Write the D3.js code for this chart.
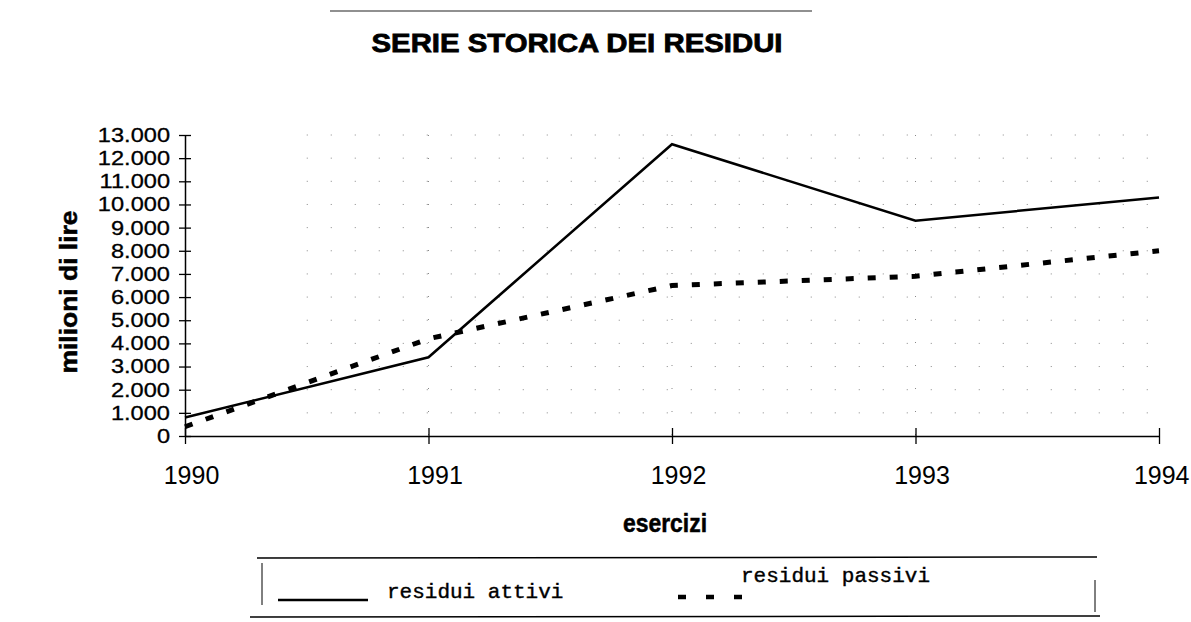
<!DOCTYPE html>
<html>
<head>
<meta charset="utf-8">
<script src="https://cdn.jsdelivr.net/npm/d3@7"></script>
<style>
  body { margin: 0; background: #fff; }
  svg { display: block; }
</style>
</head>
<body>
<div id="chart"></div>
<script>
// dati (milioni di lire)
const years = [1990, 1991, 1992, 1993, 1994];
const residuiAttivi = [800, 3400, 12600, 9300, 10300];
const residuiPassivi = [400, 4200, 6500, 6900, 8000];
const yTicks = d3.range(0, 13001, 1000);

const width = 1191, height = 622;
const margin = {top: 135, right: 32, bottom: 186, left: 185};

const sans = 'Liberation Sans, Arial, sans-serif';
const mono = 'Liberation Mono, Courier New, monospace';

const svg = d3.select('#chart').append('svg')
  .attr('width', width)
  .attr('height', height);

const x = d3.scaleLinear()
  .domain([1990, 1994])
  .range([margin.left, width - margin.right]);

const y = d3.scaleLinear()
  .domain([0, 13000])
  .range([height - margin.bottom, margin.top]);

const fmt = d => d === 0 ? '0' : d3.format(',')(d).replace(/,/g, '.');

// allarga il testo in orizzontale senza cambiarne l'altezza
function stretch(sel, k) {
  sel.each(function() {
    const len = this.getComputedTextLength();
    d3.select(this).attr('textLength', len * k).attr('lengthAdjust', 'spacingAndGlyphs');
  });
}

// riga in alto (bordo della pagina scansionata)
svg.append('line')
  .attr('x1', 330).attr('x2', 812).attr('y1', 11).attr('y2', 11)
  .attr('stroke', '#222').attr('stroke-width', 1.2);

// griglia puntinata molto leggera
const grid = svg.append('g').attr('class', 'grid');
grid.selectAll('line.h')
  .data(yTicks.slice(1))
  .join('line')
  .attr('x1', x(1990.5)).attr('x2', x(1994))
  .attr('y1', d => y(d)).attr('y2', d => y(d))
  .attr('stroke', '#888').attr('stroke-width', 1)
  .attr('stroke-dasharray', '1 23');
grid.selectAll('line.v')
  .data(years.slice(1, 4))
  .join('line')
  .attr('x1', d => x(d)).attr('x2', d => x(d))
  .attr('y1', y(13000)).attr('y2', y(0))
  .attr('stroke', '#888').attr('stroke-width', 1)
  .attr('stroke-dasharray', '1 22');

// titolo
svg.append('text')
  .attr('x', 577).attr('y', 52)
  .attr('text-anchor', 'middle')
  .attr('textLength', 411).attr('lengthAdjust', 'spacingAndGlyphs')
  .style('font-family', sans)
  .style('font-weight', 'bold')
  .style('font-size', '26px')
  .style('stroke', '#000').style('stroke-width', 0.8)
  .text('SERIE STORICA DEI RESIDUI');

// asse y
const yAxis = svg.append('g')
  .attr('transform', `translate(${margin.left},0)`)
  .call(d3.axisLeft(y).tickValues(yTicks).tickFormat(fmt).tickSizeInner(6).tickSizeOuter(0).tickPadding(6));
yAxis.select('.domain').attr('stroke', '#000').attr('stroke-width', 1.5);
yAxis.selectAll('.tick line').attr('x2', 6).attr('x1', -6).attr('stroke-width', 1.3);
yAxis.selectAll('.tick text')
  .attr('x', -15)
  .style('font-family', sans)
  .style('font-size', '20px')
  .style('stroke', '#000').style('stroke-width', 0.3)
  .attr('fill', '#000')
  .call(stretch, 1.18);

// asse x
const xAxis = svg.append('g')
  .attr('transform', `translate(0,${y(0)})`)
  .call(d3.axisBottom(x).tickValues(years).tickFormat(d3.format('d')).tickSizeInner(8).tickSizeOuter(0).tickPadding(22));
xAxis.select('.domain').attr('stroke', '#000').attr('stroke-width', 1.5);
xAxis.selectAll('.tick line').attr('y1', -8).attr('y2', 8).attr('stroke-width', 1.3);
xAxis.selectAll('.tick text')
  .attr('dx', 6)
  .style('font-family', sans)
  .style('font-size', '25px')
  .attr('fill', '#000');
// l'ultima etichetta resta dentro il bordo destro
xAxis.selectAll('.tick text').filter(d => d === 1994)
  .attr('text-anchor', 'end')
  .attr('dx', width - 2 - x(1994));

// titoli assi
svg.append('text')
  .attr('transform', 'translate(77,292) rotate(-90)')
  .attr('text-anchor', 'middle')
  .attr('textLength', 163).attr('lengthAdjust', 'spacingAndGlyphs')
  .style('font-family', sans)
  .style('font-weight', 'bold')
  .style('font-size', '24px')
  .style('stroke', '#000').style('stroke-width', 0.5)
  .text('milioni di lire');

svg.append('text')
  .attr('x', 665).attr('y', 532)
  .attr('text-anchor', 'middle')
  .attr('textLength', 84).attr('lengthAdjust', 'spacingAndGlyphs')
  .style('font-family', sans)
  .style('font-weight', 'bold')
  .style('font-size', '26px')
  .style('stroke', '#000').style('stroke-width', 0.5)
  .text('esercizi');

// linee
const line = d3.line()
  .x((d, i) => x(years[i]))
  .y(d => y(d));

svg.append('path')
  .datum(residuiPassivi)
  .attr('d', line)
  .attr('fill', 'none')
  .attr('stroke', '#000')
  .attr('stroke-width', 5)
  .attr('stroke-dasharray', '8 14');

svg.append('path')
  .datum(residuiAttivi)
  .attr('d', line)
  .attr('fill', 'none')
  .attr('stroke', '#000')
  .attr('stroke-width', 2.5);

// legenda
const lg = svg.append('g').attr('stroke', '#000');
lg.append('line').attr('x1', 257).attr('x2', 1097).attr('y1', 558).attr('y2', 557).attr('stroke-width', 1.5);
lg.append('line').attr('x1', 250).attr('x2', 1100).attr('y1', 617).attr('y2', 616).attr('stroke-width', 1.5);
lg.append('line').attr('x1', 262).attr('x2', 262).attr('y1', 563).attr('y2', 605).attr('stroke-width', 1);
lg.append('line').attr('x1', 1095).attr('x2', 1095).attr('y1', 580).attr('y2', 612).attr('stroke-width', 1);

lg.append('line').attr('x1', 278).attr('x2', 368).attr('y1', 600).attr('y2', 600).attr('stroke-width', 2.5);
lg.append('line').attr('x1', 678).attr('x2', 742).attr('y1', 597).attr('y2', 597)
  .attr('stroke-width', 4.5)
  .attr('stroke-dasharray', '8 20');

svg.append('text')
  .attr('x', 387).attr('y', 598)
  .style('font-family', mono)
  .style('font-size', '21px')
  .style('stroke', '#000').style('stroke-width', 0.4)
  .text('residui attivi');
svg.append('text')
  .attr('x', 741).attr('y', 582)
  .style('font-family', mono)
  .style('font-size', '21px')
  .style('stroke', '#000').style('stroke-width', 0.4)
  .text('residui passivi');
</script>
</body>
</html>
